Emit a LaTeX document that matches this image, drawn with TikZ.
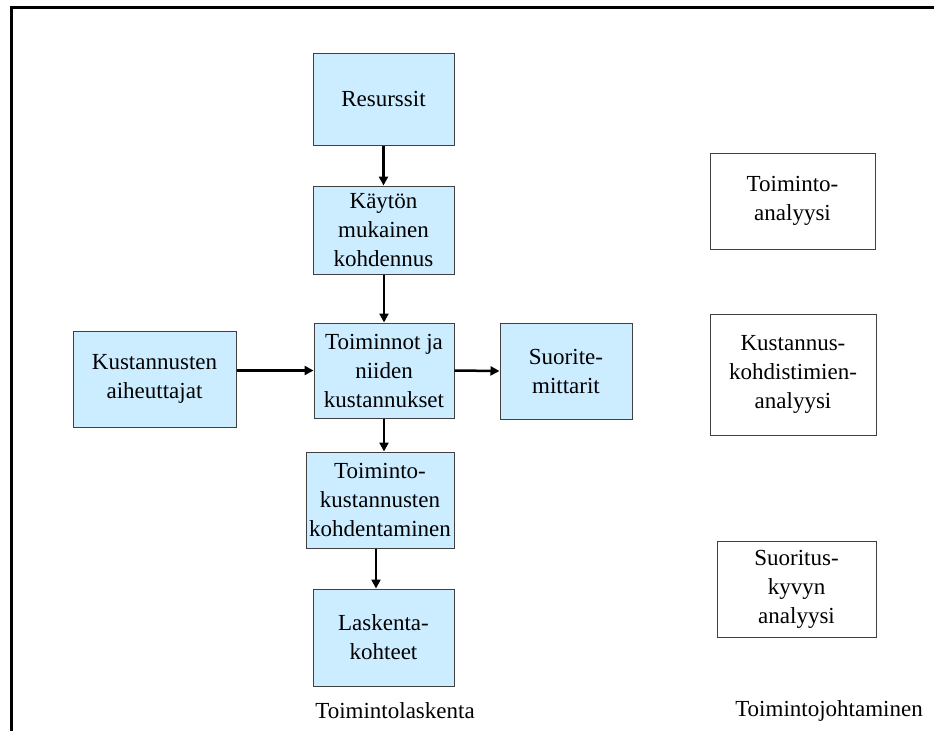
\documentclass[tikz,border=0pt]{standalone}
\usepackage{fontspec}
\setmainfont{Liberation Serif}
\usepackage{xcolor}
\usepackage{tikz}
\usetikzlibrary{positioning,calc,arrows.meta}

\definecolor{boxblue}{HTML}{CCECFF}
\definecolor{boxline}{HTML}{404040}

\tikzset{
    blubox/.style={draw=boxline, fill=boxblue, line width=1pt, inner sep=0pt, align=center},
    whbox/.style={draw=boxline, fill=white, line width=1pt, inner sep=0pt, align=center},
    arr/.style={-{Triangle[length=9pt,width=9pt]}, line width=2.5pt, black}
}

\begin{document}
\begin{tikzpicture}[x=1pt, y=-1pt, font=\fontsize{23}{29}\selectfont]
    \useasboundingbox (0,0) rectangle (934,731);
    % frame
    \draw[line width=2.5pt] (11.5,731) -- (11.5,7.5) -- (934,7.5);

    % Toimintolaskenta
    \node[blubox, minimum width=141pt, minimum height=92pt] (res) at (383.5,99) {Resurssit};
    \node[blubox, minimum width=141pt, minimum height=88pt] (kaytto) at (383.5,230) {Käytön\\mukainen\\kohdennus};
    \node[blubox, minimum width=140pt, minimum height=95pt] (toim) at (384,370.5) {Toiminnot ja\\niiden\\kustannukset};
    \node[blubox, minimum width=163pt, minimum height=96pt] (kust) at (154.5,379) {Kustannusten\\aiheuttajat};
    \node[blubox, minimum width=132pt, minimum height=96pt] (suor) at (566,371) {Suorite-\\mittarit};
    \node[blubox, minimum width=148pt, minimum height=96pt] (kohd) at (380,500) {Toiminto-\\kustannusten\\kohdentaminen};
    \node[blubox, minimum width=141pt, minimum height=97pt] (lask) at (383.5,637.5) {Laskenta-\\kohteet};
    \node (tlask) at (395,711) {Toimintolaskenta};

    % Toimintojohtaminen
    \node[whbox, minimum width=165pt, minimum height=96pt] (tanal) at (792.5,201) {Toiminto-\\analyysi};
    \node[whbox, minimum width=166pt, minimum height=121pt] (kanal) at (793,374.5) {Kustannus-\\kohdistimien-\\analyysi};
    \node[whbox, minimum width=159pt, minimum height=96pt] (sanal) at (796.5,589) {Suoritus-\\kyvyn\\analyysi};
    \node (tjoht) at (829,711) {Toimintojohtaminen};

    % arrows
    \draw[arr] (res) -- (kaytto);
    \draw[arr] (toim.north |- kaytto.south) -- (toim.north);
    \draw[arr] (kust.east |- toim.west) -- (toim.west);
    \draw[arr] (toim.east) -- (suor.west);
    \draw[arr] (toim.south) -- (toim.south |- kohd.north);
    \draw[arr] ($(kohd.south)+(-4,0)$) -- ($(kohd.south |- lask.north)+(-4,0)$);
\end{tikzpicture}
\end{document}
